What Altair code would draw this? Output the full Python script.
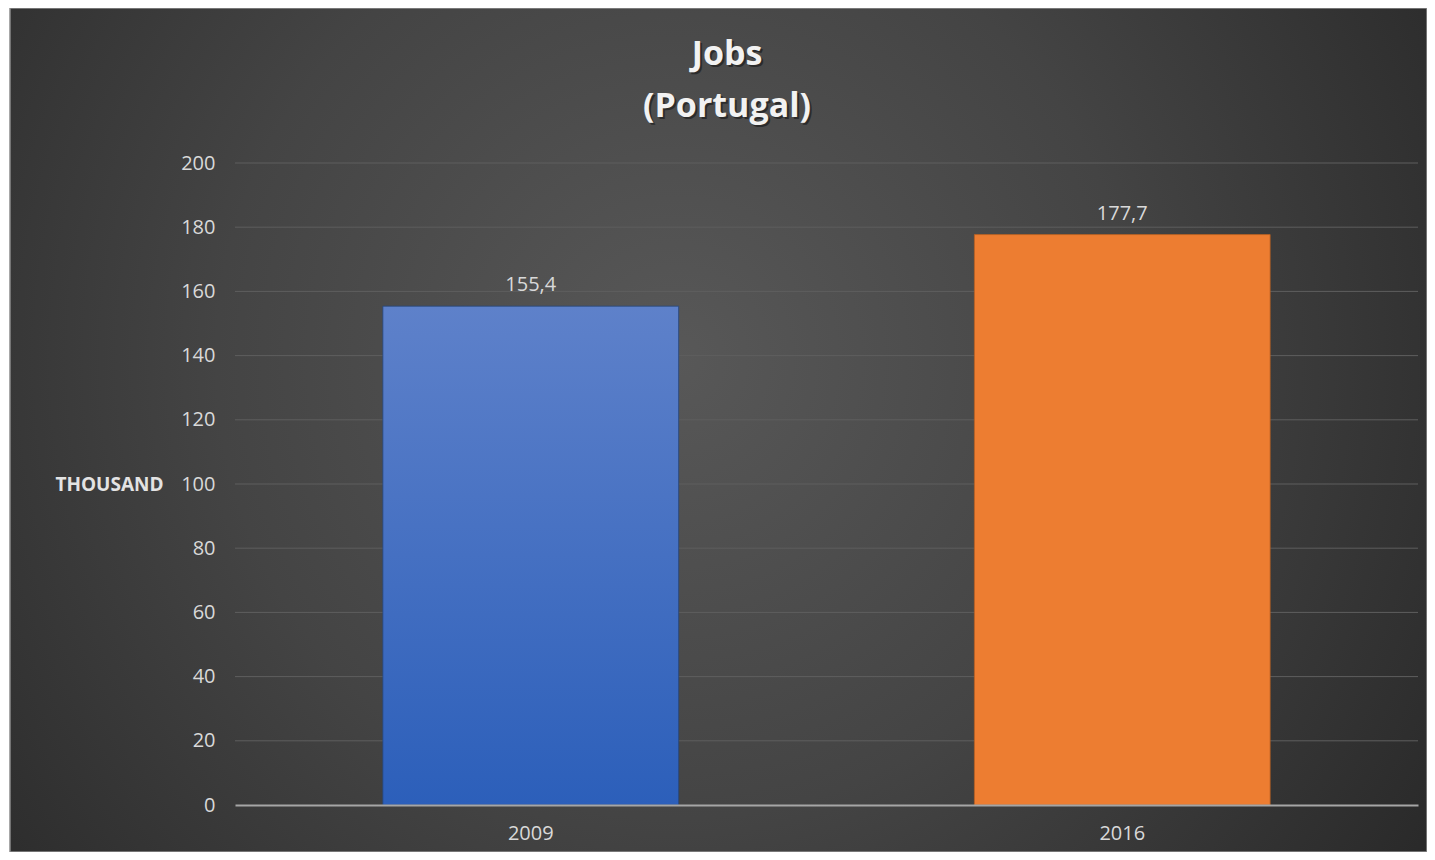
import altair as alt
import pandas as pd

years = ["2009", "2016"]
jobs = [155.4, 177.7]
y_ticks = list(range(0, 201, 20))
title_lines = ["Jobs", "(Portugal)"]

df = pd.DataFrame({"year": years, "jobs": jobs})
grid_df = pd.DataFrame({"tick": y_ticks})

W, H = 1183, 642
PAD = {"left": 227, "top": 155, "right": 9, "bottom": 47}
FONT = "Open Sans"

bg = alt.Chart(pd.DataFrame({"a": [0]})).mark_rect(
    fill={
        "gradient": "radial",
        "x1": 0.47, "y1": 0.45, "r1": 0,
        "x2": 0.47, "y2": 0.45, "r2": 0.72,
        "stops": [
            {"offset": 0, "color": "#585858"},
            {"offset": 0.45, "color": "#444444"},
            {"offset": 1, "color": "#222222"},
        ],
    },
    stroke="#8a8a8a",
    strokeWidth=1.5,
).encode(
    x=alt.value(-PAD["left"] + 2),
    x2=alt.value(W + PAD["right"]),
    y=alt.value(-PAD["top"]),
    y2=alt.value(H + PAD["bottom"]),
)

yscale = alt.Scale(domain=[0, 200])
yaxis = alt.Axis(
    values=y_ticks, title="THOUSAND", titleAngle=0,
    titleFont=FONT, titleFontSize=19, titleFontWeight="bold",
    titleColor="#e3e3e3", titleAlign="right", titleBaseline="middle",
    titleX=-72, titleY=H / 2, labelFont=FONT, labelFontSize=20,
    labelColor="#d9d9d9", labelPadding=20, ticks=False, domain=False,
    grid=False, zindex=1,
)

grid = alt.Chart(grid_df).transform_filter(alt.datum.tick > 0).mark_rule(
    color="#5e5e5e", strokeWidth=1
).encode(
    y=alt.Y("tick:Q", scale=yscale, axis=yaxis),
    x=alt.value(0),
    x2=alt.value(W),
)

xenc = alt.X(
    "year:N",
    sort=years,
    scale=alt.Scale(paddingInner=0.5, paddingOuter=0.25),
    axis=alt.Axis(
        title=None, labelAngle=0, labelFont=FONT, labelFontSize=20,
        labelColor="#d9d9d9", labelPadding=18, ticks=False,
        domain=True, domainColor="#a6a6a6", domainWidth=2, grid=False,
        zindex=2,
    ),
)
yenc = alt.Y("jobs:Q", scale=yscale, axis=yaxis)

bar_blue = alt.Chart(df).transform_filter(alt.datum.year == "2009").mark_bar(
    fill={
        "gradient": "linear", "x1": 0, "y1": 0, "x2": 0, "y2": 1,
        "stops": [
            {"offset": 0, "color": "#5e81ca"},
            {"offset": 1, "color": "#2c5fba"},
        ],
    },
    stroke="#26477f", strokeWidth=0.8,
).encode(x=xenc, y=yenc)

bar_orange = alt.Chart(df).transform_filter(alt.datum.year == "2016").mark_bar(
    fill="#ed7d31", stroke="#b75f22", strokeWidth=0.8,
).encode(x=xenc, y=yenc)

labels = alt.Chart(df).transform_calculate(
    lab="replace(format(datum.jobs, '.1f'), '.', ',')"
).mark_text(
    font=FONT, fontSize=20, color="#d9d9d9", baseline="bottom", dy=-11,
).encode(x=xenc, y=yenc, text="lab:N")


def title_text(txt, ypos, color, dx=0, dy=0, opacity=1.0):
    return alt.Chart(pd.DataFrame({"a": [0]})).mark_text(
        text=txt, font=FONT, fontSize=34, fontWeight="bold",
        color=color, baseline="middle", align="center",
        dx=dx, dy=dy, opacity=opacity,
    ).encode(x=alt.value(492), y=alt.value(ypos))


titles = [
    title_text(title_lines[0], -108, "#111111", 2, 2, 0.55),
    title_text(title_lines[1], -56, "#111111", 2, 2, 0.55),
    title_text(title_lines[0], -108, "#f2f2f2"),
    title_text(title_lines[1], -56, "#f2f2f2"),
]

chart = alt.layer(bg, grid, bar_blue, bar_orange, labels, *titles).properties(
    width=W, height=H,
    padding=PAD,
    autosize=alt.AutoSizeParams(type="none"),
    background="#ffffff",
).configure_view(stroke=None)

chart.save("out.html", embed_options={"renderer": "svg", "actions": False})
